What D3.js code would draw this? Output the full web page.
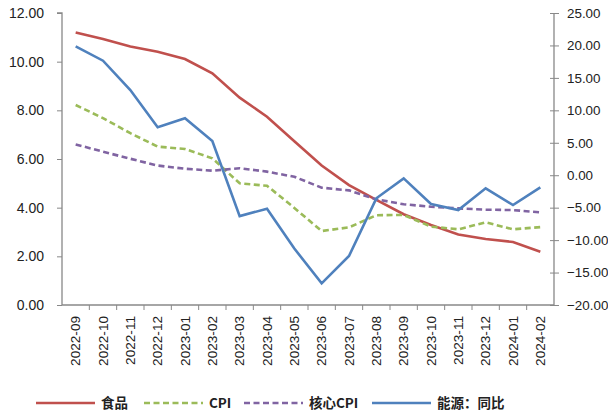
<!DOCTYPE html>
<html>
<head>
<meta charset="utf-8">
<script src="https://cdn.jsdelivr.net/npm/d3@7"></script>
<style>
  body { margin: 0; background: #fff; }
  svg text { font-family: "Liberation Sans", Arial, sans-serif; fill: #222; }
</style>
</head>
<body>
<div class="canvas"></div>
<script>
const months = ['2022-09', '2022-10', '2022-11', '2022-12', '2023-01', '2023-02', '2023-03',
  '2023-04', '2023-05', '2023-06', '2023-07', '2023-08', '2023-09', '2023-10', '2023-11',
  '2023-12', '2024-01', '2024-02'];
const food = [11.2, 10.93, 10.62, 10.41, 10.11, 9.52, 8.52, 7.74, 6.73, 5.73, 4.93, 4.32, 3.73, 3.29, 2.9, 2.71, 2.59, 2.19];
const cpi = [8.22, 7.68, 7.06, 6.51, 6.41, 6.03, 5.0, 4.9, 3.99, 3.04, 3.19, 3.69, 3.7, 3.22, 3.11, 3.4, 3.11, 3.2];
const core = [6.6, 6.3, 6.01, 5.73, 5.6, 5.52, 5.62, 5.48, 5.27, 4.82, 4.71, 4.34, 4.14, 4.04, 3.97, 3.92, 3.9, 3.81];
const energy = [19.87, 17.65, 13.13, 7.38, 8.77, 5.27, -6.3, -5.16, -11.3, -16.66, -12.45, -3.56, -0.48, -4.44, -5.36, -2.02, -4.59, -1.87];
const leftTicks = [0, 2, 4, 6, 8, 10, 12];
const rightTicks = [-20, -15, -10, -5, 0, 5, 10, 15, 20, 25];

const series = [
  { name: '食品', values: food, axis: 'left', colour: '#C0504D', dash: null },
  { name: 'CPI', values: cpi, axis: 'left', colour: '#9BBB59', dash: '6,3.5' },
  { name: '核心CPI', values: core, axis: 'left', colour: '#8064A2', dash: '6,3.5' },
  { name: '能源：同比', values: energy, axis: 'right', colour: '#4F81BD', dash: null },
];

const svg = d3.select('.canvas')
  .append('svg')
  .attr('width', 608)
  .attr('height', 415);

const plotL = 62, plotR = 554, plotT = 13, plotB = 305;

const x = d3.scaleBand().domain(months).range([plotL, plotR]);
const yL = d3.scaleLinear().domain([0, 12]).range([plotB, plotT]);
const yR = d3.scaleLinear().domain([-20, 25]).range([plotB, plotT]);

// left axis
const gl = svg.append('g')
  .attr('transform', `translate(${plotL},0)`)
  .call(d3.axisLeft(yL).tickValues(leftTicks).tickFormat(d3.format('.2f')).tickSize(5).tickPadding(13));

// right axis
const gr = svg.append('g')
  .attr('transform', `translate(${plotR},0)`)
  .call(d3.axisRight(yR).tickValues(rightTicks).tickFormat(d3.format('.2f')).tickSize(5).tickPadding(8));
gr.selectAll('.tick line').attr('x1', -4);

// x axis
const gx = svg.append('g')
  .attr('transform', `translate(0,${plotB})`)
  .call(d3.axisBottom(x).tickSize(0).tickFormat(d => d));
gx.selectAll('.tick text')
  .attr('transform', 'rotate(-90)')
  .attr('text-anchor', 'end')
  .attr('x', -11)
  .attr('y', 0)
  .attr('dy', '0.35em')
  .style('font-size', '13.6px');
// boundary ticks
gx.selectAll('.bound')
  .data(months.slice(1))
  .enter()
  .append('line')
  .attr('x1', d => x(d)).attr('x2', d => x(d))
  .attr('y1', 0).attr('y2', 5)
  .attr('stroke', '#888');

[gl, gr, gx].forEach(g => {
  g.select('.domain').attr('stroke', '#888').attr('stroke-width', 1.3);
  g.selectAll('.tick line').attr('stroke', '#888');
  g.selectAll('.tick text').style('fill', '#222');
});
gl.selectAll('.tick text').style('font-size', '14px');
gr.selectAll('.tick text').style('font-size', '13.4px');
gl.select('.domain').attr('d', `M-5,${plotT}H0V${plotB}`);
gr.select('.domain').attr('d', `M0,${plotT}V${plotB}`);
gx.select('.domain').attr('d', `M${plotL},0H${plotR}`);

// lines
series.forEach(s => {
  const y = s.axis === 'left' ? yL : yR;
  const line = d3.line()
    .x((d, i) => x(months[i]) + x.bandwidth() / 2)
    .y(d => y(d));
  svg.append('path')
    .datum(s.values)
    .attr('d', line)
    .attr('fill', 'none')
    .attr('stroke', s.colour)
    .attr('stroke-width', 2.6)
    .attr('stroke-dasharray', s.dash);
});

// legend
const legendX = [36, 144, 244, 372];
const leg = svg.append('g').attr('transform', 'translate(0,403)');
series.forEach((s, i) => {
  leg.append('line')
    .attr('x1', legendX[i]).attr('x2', legendX[i] + 59)
    .attr('y1', 0).attr('y2', 0)
    .attr('stroke', s.colour)
    .attr('stroke-width', 2.6)
    .attr('stroke-dasharray', s.dash);
  leg.append('text')
    .attr('x', legendX[i] + 65)
    .attr('y', 0)
    .attr('dy', '0.36em')
    .style('font-family', '"Noto Sans CJK SC", sans-serif')
    .style('font-weight', 'bold')
    .style('font-size', '13.5px')
    .text(s.name);
});
</script>
</body>
</html>
